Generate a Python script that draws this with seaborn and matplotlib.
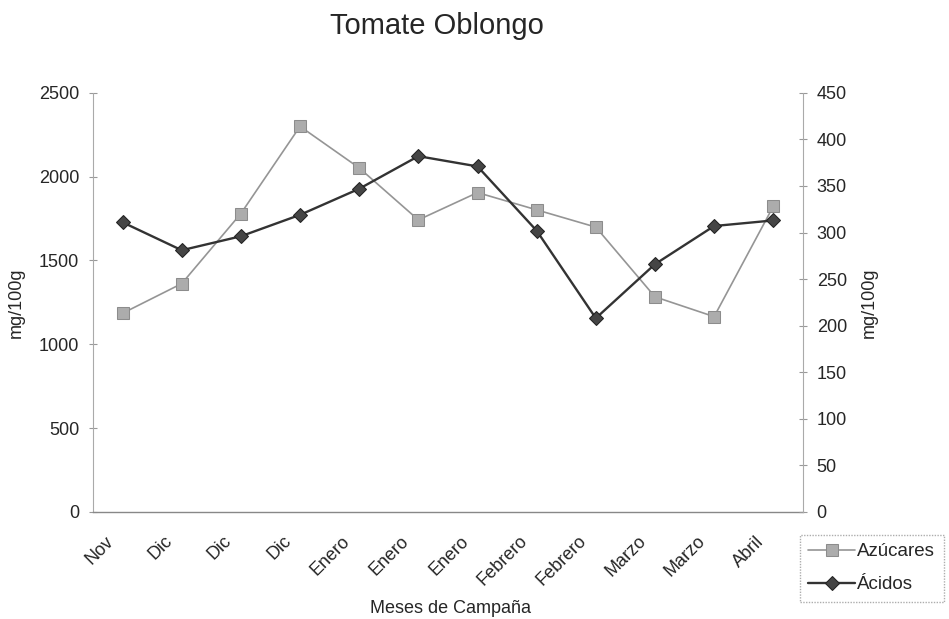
import matplotlib

matplotlib.use("Agg")
import matplotlib.pyplot as plt
import numpy as np
import pandas as pd
import seaborn as sns

meses = ["Nov", "Dic", "Dic", "Dic", "Enero", "Enero", "Enero",
         "Febrero", "Febrero", "Marzo", "Marzo", "Abril"]
azucares = [1185, 1362, 1780, 2300, 2052, 1742, 1905, 1802, 1699, 1283, 1165, 1823]
acidos = [311, 281, 296, 319, 347, 382, 371, 302, 208, 266, 307, 313]

df = pd.DataFrame({"pos": np.arange(len(meses)), "mes": meses,
                   "Azúcares": azucares, "Ácidos": acidos})

sns.set_style("white")
plt.rcParams["font.family"] = ["Liberation Sans", "DejaVu Sans"]
fs = 13

fig = plt.figure(figsize=(9.49, 6.19), dpi=100)
ax = fig.add_axes([0.098, 0.173, 0.748, 0.677])
ax2 = ax.twinx()

sns.lineplot(data=df, x="pos", y="Azúcares", ax=ax, color="#959595", lw=1.2,
             marker="s", markersize=9, markerfacecolor="#acacac",
             markeredgecolor="#8c8c8c", label="Azúcares", legend=False)
sns.lineplot(data=df, x="pos", y="Ácidos", ax=ax2, color="#333333", lw=1.7,
             marker="D", markersize=7.5, markerfacecolor="#454545",
             markeredgecolor="#222222", label="Ácidos", legend=False)

ax.set_xlim(-0.5, len(meses) - 0.5)
ax.set_ylim(0, 2500)
ax2.set_ylim(0, 450)
ax.set_yticks(np.arange(0, 2501, 500))
ax2.set_yticks(np.arange(0, 451, 50))

# category boundaries carry the tick marks; Excel puts the rotated labels
# a little left of the category centres
ax.set_xticks(np.arange(-0.5, len(meses), 1.0))
ax.set_xticklabels([])
ax.set_xticks(df["pos"] - 0.3, minor=True)
ax.set_xticklabels(meses, minor=True, rotation=45, ha="right",
                   rotation_mode="anchor", fontsize=fs)
ax.tick_params(axis="x", which="minor", length=0, pad=15)
ax.tick_params(axis="x", which="major", length=8, direction="inout",
               color="#888888", width=0.8)
ax.tick_params(axis="y", length=6, direction="inout", color="#999999",
               width=0.8, labelsize=fs, pad=7)
ax2.tick_params(axis="y", length=6, direction="inout", color="#999999",
                width=0.8, labelsize=fs, pad=7)

for a in (ax, ax2):
    a.spines["top"].set_visible(False)
    a.grid(False)
ax.spines["right"].set_visible(False)
ax2.spines["bottom"].set_visible(False)
ax2.spines["left"].set_visible(False)
ax.spines["left"].set_color("#aaaaaa")
ax.spines["left"].set_linestyle((0, (1, 1)))
ax2.spines["right"].set_color("#aaaaaa")
ax2.spines["right"].set_linestyle((0, (1, 1)))
ax.spines["bottom"].set_color("#888888")
ax.spines["bottom"].set_linewidth(1.0)

ax.set_xlabel("Meses de Campaña", fontsize=fs)
ax.xaxis.set_label_coords(0.503, -0.21)
ax.set_ylabel("mg/100g", fontsize=fs, labelpad=10)
ax2.set_ylabel("mg/100g", fontsize=fs, labelpad=10)
fig.suptitle("Tomate Oblongo", fontsize=21, x=0.46, y=0.981)

h1, l1 = ax.get_legend_handles_labels()
h2, l2 = ax2.get_legend_handles_labels()
leg = fig.legend(h1 + h2, l1 + l2, loc="upper left",
                 bbox_to_anchor=(0.843, 0.136), fontsize=13.5, frameon=True,
                 fancybox=False, handlelength=2.5, handletextpad=0.1,
                 borderpad=0.45, labelspacing=0.85, borderaxespad=0)
leg.get_frame().set_edgecolor("#999999")
leg.get_frame().set_linestyle((0, (1, 1)))

fig.savefig("out.png", dpi=100)
plt.close(fig)
